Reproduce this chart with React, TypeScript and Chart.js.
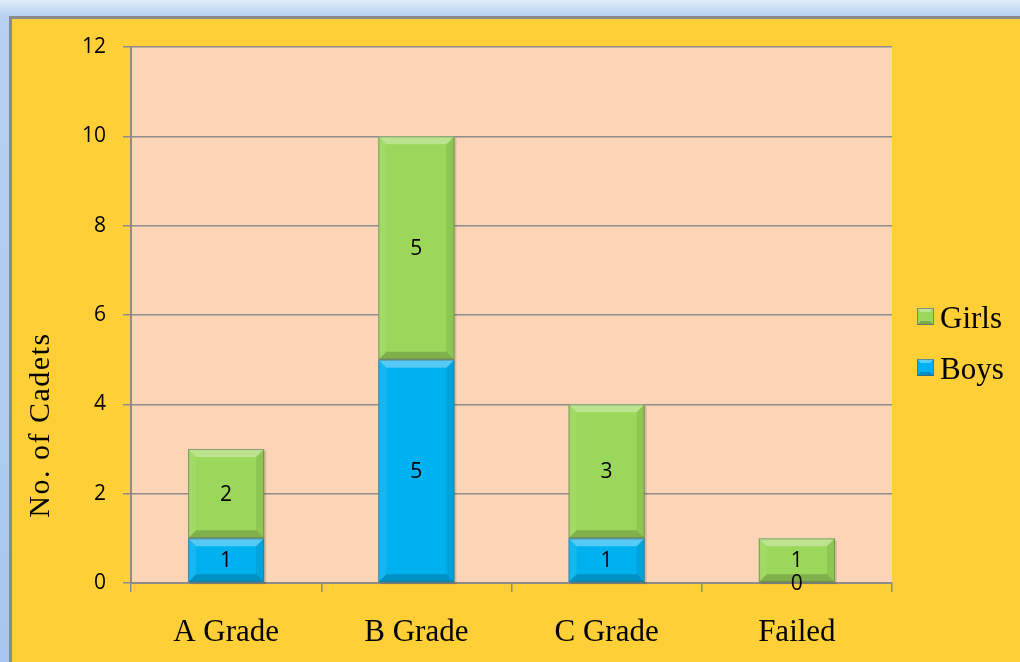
import React, { useEffect, useRef } from "react";
import { Chart, registerables } from "chart.js";

Chart.register(...registerables);

const categories = ["A Grade", "B Grade", "C Grade", "Failed"];
const boysValues = [1, 5, 1, 0];
const girlsValues = [2, 5, 3, 1];
const seriesLabels = ["Boys", "Girls"];
const seriesColors = ["#00B1EF", "#9BD75A"];
const yMin = 0;
const yMax = 12;
const yStep = 2;
const yTitle = "No. of Cadets";

const SERIF = "'Liberation Serif', 'Times New Roman', serif";
const SANS = "'Open Sans', 'Liberation Sans', sans-serif";
const GRID = "#8C8C8C";

const plotBg = {
  id: "plotBg",
  beforeDraw(chart: any) {
    const { ctx, chartArea: a } = chart;
    ctx.save();
    ctx.fillStyle = "#FBD5B5";
    ctx.fillRect(a.left, a.top, a.right - a.left, a.bottom - a.top);
    ctx.restore();
  },
};

function barRects(chart: any) {
  const out: any[] = [];
  chart.data.datasets.forEach((ds: any, di: number) => {
    const meta = chart.getDatasetMeta(di);
    meta.data.forEach((el: any, i: number) => {
      const p = el.getProps(["x", "y", "base", "width"], true);
      const l = p.x - p.width / 2;
      const r = p.x + p.width / 2;
      const t = Math.min(p.y, p.base);
      const b = Math.max(p.y, p.base);
      out.push({ l, r, t, b, x: p.x, value: ds.data[i], di });
    });
  });
  return out;
}

const bevelPlugin = {
  id: "bevel",
  beforeDatasetsDraw(chart: any) {
    const { ctx } = chart;
    ctx.save();
    barRects(chart).forEach((br) => {
      if (br.b - br.t < 1) return;
      ctx.fillStyle = "rgba(0,0,0,0.13)";
      ctx.fillRect(br.l + 2, br.t + 2, br.r - br.l, br.b - br.t);
    });
    ctx.restore();
  },
  afterDatasetsDraw(chart: any) {
    const { ctx } = chart;
    const rects = barRects(chart);
    ctx.save();
    rects.forEach((br) => {
      const { l, r, t, b } = br;
      const h = b - t;
      if (h < 1) return;
      const bv = Math.min(8, h / 2);
      const poly = (pts: number[][], fill: string) => {
        ctx.beginPath();
        ctx.moveTo(pts[0][0], pts[0][1]);
        for (let k = 1; k < pts.length; k++) ctx.lineTo(pts[k][0], pts[k][1]);
        ctx.closePath();
        ctx.fillStyle = fill;
        ctx.fill();
      };
      poly([[l, t], [r, t], [r - bv, t + bv], [l + bv, t + bv]], "rgba(255,255,255,0.33)");
      poly([[l, t], [l + bv, t + bv], [l + bv, b - bv], [l, b]], "rgba(255,255,255,0.08)");
      poly([[r, t], [r - bv, t + bv], [r - bv, b - bv], [r, b]], "rgba(0,0,0,0.08)");
      poly([[l, b], [l + bv, b - bv], [r - bv, b - bv], [r, b]], "rgba(0,0,0,0.18)");
      ctx.strokeStyle = "rgba(90,90,90,0.5)";
      ctx.lineWidth = 1;
      ctx.strokeRect(l + 0.5, t + 0.5, r - l - 1, h - 1);
    });
    ctx.fillStyle = "#000";
    ctx.font = "21px " + SANS;
    ctx.textAlign = "center";
    ctx.textBaseline = "middle";
    rects.forEach((br) => {
      ctx.fillText(String(br.value), br.x, (br.t + br.b) / 2 + 1);
    });
    ctx.restore();
  },
};

const decorPlugin = {
  id: "decor",
  afterDraw(chart: any) {
    const { ctx } = chart;
    ctx.save();
    ctx.translate(49, 425);
    ctx.rotate(-Math.PI / 2);
    ctx.fillStyle = "#000";
    ctx.font = "30px " + SERIF;
    (ctx as any).letterSpacing = "1.5px";
    ctx.textAlign = "center";
    ctx.textBaseline = "alphabetic";
    ctx.fillText(yTitle, 0, 0);
    ctx.restore();

    ctx.save();
    const items = chart.data.datasets
      .map((ds: any) => ({ label: ds.label, color: ds.backgroundColor }))
      .reverse();
    items.forEach((it: any, k: number) => {
      const boxTop = 308 + k * 51;
      const bx = 917;
      const s = 17;
      ctx.fillStyle = it.color;
      ctx.fillRect(bx, boxTop, s, s);
      const bv = 4;
      ctx.fillStyle = "rgba(255,255,255,0.35)";
      ctx.beginPath();
      ctx.moveTo(bx, boxTop);
      ctx.lineTo(bx + s, boxTop);
      ctx.lineTo(bx + s - bv, boxTop + bv);
      ctx.lineTo(bx + bv, boxTop + bv);
      ctx.closePath();
      ctx.fill();
      ctx.fillStyle = "rgba(0,0,0,0.2)";
      ctx.beginPath();
      ctx.moveTo(bx, boxTop + s);
      ctx.lineTo(bx + bv, boxTop + s - bv);
      ctx.lineTo(bx + s - bv, boxTop + s - bv);
      ctx.lineTo(bx + s, boxTop + s);
      ctx.closePath();
      ctx.fill();
      ctx.strokeStyle = "rgba(90,90,90,0.6)";
      ctx.lineWidth = 1;
      ctx.strokeRect(bx + 0.5, boxTop + 0.5, s - 1, s - 1);
      ctx.fillStyle = "#000";
      ctx.font = "31px " + SERIF;
      ctx.textAlign = "left";
      ctx.textBaseline = "alphabetic";
      ctx.fillText(it.label, 940, boxTop + 20);
    });
    ctx.restore();
  },
};

export default function App() {
  const ref = useRef<HTMLCanvasElement | null>(null);

  useEffect(() => {
    if (!ref.current) return;
    const chart = new Chart(ref.current, {
      type: "bar",
      data: {
        labels: categories,
        datasets: [
          {
            label: seriesLabels[0],
            data: boysValues,
            backgroundColor: seriesColors[0],
            borderWidth: 0,
          },
          {
            label: seriesLabels[1],
            data: girlsValues,
            backgroundColor: seriesColors[1],
            borderWidth: 0,
          },
        ],
      },
      options: {
        responsive: false,
        animation: false,
        devicePixelRatio: 1,
        layout: { padding: { top: 47, right: 128, bottom: 0, left: 0 } },
        datasets: { bar: { barPercentage: 0.4, categoryPercentage: 1 } },
        plugins: {
          legend: { display: false },
          tooltip: { enabled: false },
          title: { display: false },
        },
        scales: {
          x: {
            stacked: true,
            afterFit: (s: any) => {
              s.height = 79;
            },
            grid: {
              display: true,
              drawOnChartArea: false,
              drawTicks: true,
              tickLength: 9,
              offset: true,
              color: GRID,
              lineWidth: 1.5,
            },
            border: { display: true, color: GRID, width: 2 },
            ticks: {
              color: "#000",
              font: { family: SERIF, size: 31 },
              padding: 22,
              maxRotation: 0,
              autoSkip: false,
            },
          },
          y: {
            stacked: true,
            min: yMin,
            max: yMax,
            afterFit: (s: any) => {
              s.width = 131;
            },
            grid: {
              display: true,
              drawOnChartArea: true,
              drawTicks: true,
              tickLength: 8,
              color: GRID,
              lineWidth: 1.5,
            },
            border: { display: true, color: GRID, width: 2 },
            ticks: {
              stepSize: yStep,
              color: "#000",
              font: { family: SANS, size: 21 },
              padding: 17,
            },
          },
        },
      },
      plugins: [plotBg, bevelPlugin, decorPlugin],
    });
    return () => chart.destroy();
  }, []);

  return (
    <div
      style={{
        position: "fixed",
        left: 0,
        top: 0,
        width: 1020,
        height: 662,
        overflow: "hidden",
        background: "linear-gradient(to bottom, #E2ECF9 0px, #B7D0F1 16px, #A9C7EE 662px)",
      }}
    >
      <div
        style={{
          position: "absolute",
          left: 9,
          top: 16,
          right: 0,
          bottom: 0,
          borderTop: "3px solid #8A8A8A",
          borderLeft: "3px solid #8A8A8A",
          background: "#FECF37",
        }}
      />
      <canvas
        ref={ref}
        width={1020}
        height={662}
        style={{ position: "absolute", left: 0, top: 0, width: 1020, height: 662 }}
      />
    </div>
  );
}
